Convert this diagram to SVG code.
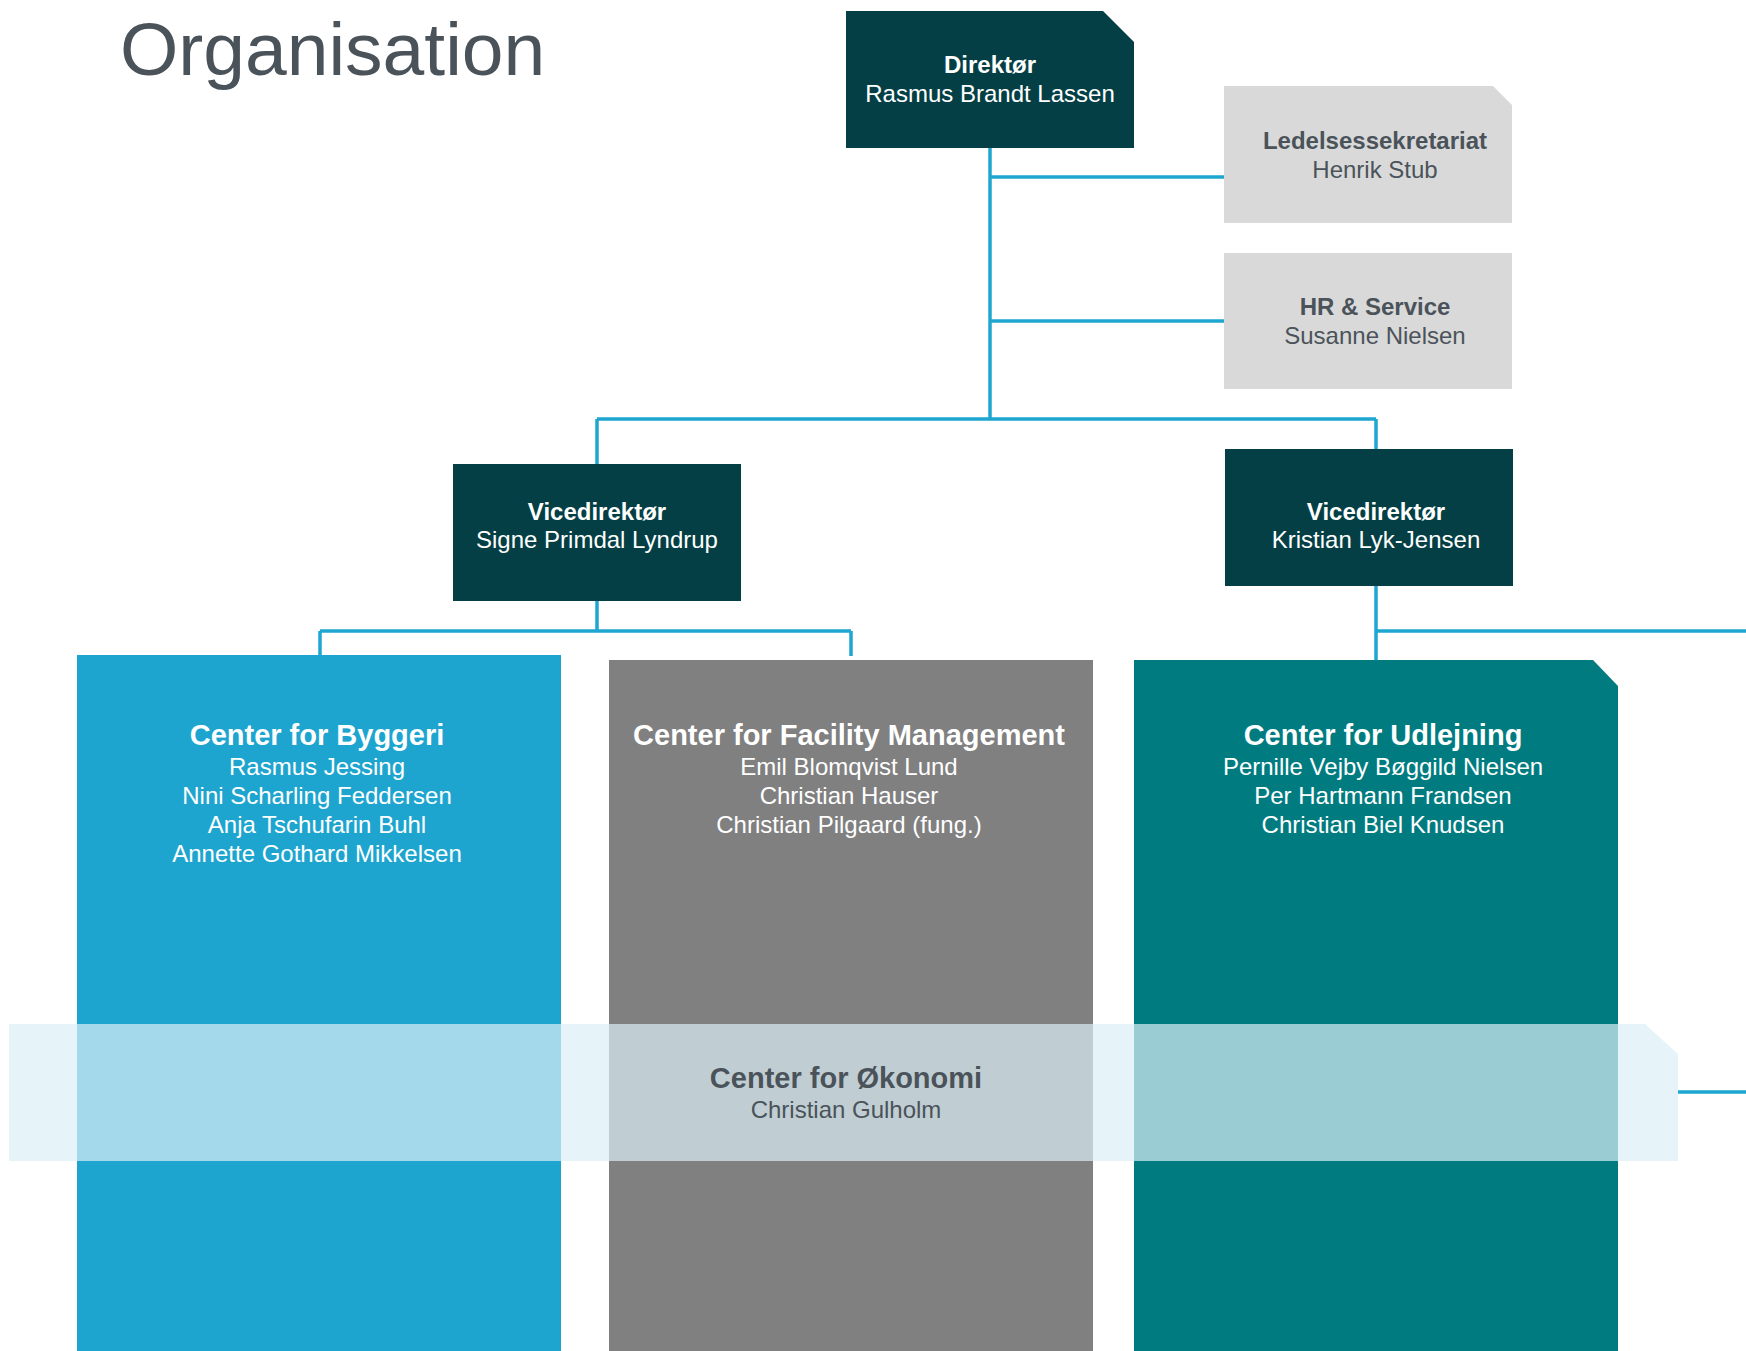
<svg xmlns="http://www.w3.org/2000/svg" width="1746" height="1351" viewBox="0 0 1746 1351">
<style>
text{font-family:"Liberation Sans",Arial,sans-serif;text-anchor:middle}
.t{font-size:24px;font-weight:bold}
.n{font-size:24px}
.h{font-size:29px;font-weight:bold}
.w{fill:#ffffff}
.g{fill:#4b535a}
.dark{fill:#033f44}
.grey{fill:#d9d9d9}
.conn{stroke:#1fa6d0;stroke-width:3.5;fill:none}
</style>
<rect width="1746" height="1351" fill="#ffffff"/>
<text x="120" y="75" style="font-size:75px;text-anchor:start" class="g">Organisation</text>
<g id="connectors">
<path class="conn" d="M990,148 V419 M990,177 H1224 M990,321 H1224 M597,419 H1376 M597,419 V464 M1376,419 V449 M597,601 V631 M320,631 H851 M320,631 V655 M851,631 V656 M1376,586 V660 M1376,631 H1746 M1678,1092 H1746"/>
</g>
<g id="direktor">
<path class="dark" d="M846,11 H1103 L1134,42 V148 H846 Z"/>
<text x="990" y="73" class="t w">Direktør</text>
<text x="990" y="102" class="n w">Rasmus Brandt Lassen</text>
</g>
<g id="ledelsessekretariat">
<path class="grey" d="M1224,86 H1493 L1512,105 V223 H1224 Z"/>
<text x="1375" y="149" class="t g">Ledelsessekretariat</text>
<text x="1375" y="178" class="n g">Henrik Stub</text>
</g>
<g id="hr">
<rect class="grey" x="1224" y="253" width="288" height="136"/>
<text x="1375" y="315" class="t g">HR &amp; Service</text>
<text x="1375" y="344" class="n g">Susanne Nielsen</text>
</g>
<g id="vice1">
<rect class="dark" x="453" y="464" width="288" height="137"/>
<text x="597" y="520" class="t w">Vicedirektør</text>
<text x="597" y="548" class="n w">Signe Primdal Lyndrup</text>
</g>
<g id="vice2">
<rect class="dark" x="1225" y="449" width="288" height="137"/>
<text x="1376" y="520" class="t w">Vicedirektør</text>
<text x="1376" y="548" class="n w">Kristian Lyk-Jensen</text>
</g>
<g id="byggeri">
<rect x="77" y="655" width="484" height="696" fill="#1ea5cf"/>
<text x="317" y="745" class="h w">Center for Byggeri</text>
<text x="317" y="775" class="n w">Rasmus Jessing</text>
<text x="317" y="804" class="n w">Nini Scharling Feddersen</text>
<text x="317" y="833" class="n w">Anja Tschufarin Buhl</text>
<text x="317" y="862" class="n w">Annette Gothard Mikkelsen</text>
</g>
<g id="facility">
<rect x="609" y="660" width="484" height="691" fill="#808080"/>
<text x="849" y="745" class="h w">Center for Facility Management</text>
<text x="849" y="775" class="n w">Emil Blomqvist Lund</text>
<text x="849" y="804" class="n w">Christian Hauser</text>
<text x="849" y="833" class="n w">Christian Pilgaard (fung.)</text>
</g>
<g id="udlejning">
<path d="M1134,660 H1593 L1618,686 V1351 H1134 Z" fill="#007c81"/>
<text x="1383" y="745" class="h w">Center for Udlejning</text>
<text x="1383" y="775" class="n w">Pernille Vejby Bøggild Nielsen</text>
<text x="1383" y="804" class="n w">Per Hartmann Frandsen</text>
<text x="1383" y="833" class="n w">Christian Biel Knudsen</text>
</g>
<g id="okonomi">
<path d="M9,1024 H1645 L1678,1054 V1161 H9 Z" fill="#dbeff6" fill-opacity="0.7"/>
<text x="846" y="1088" class="h g">Center for Økonomi</text>
<text x="846" y="1118" class="n g">Christian Gulholm</text>
</g>
</svg>
